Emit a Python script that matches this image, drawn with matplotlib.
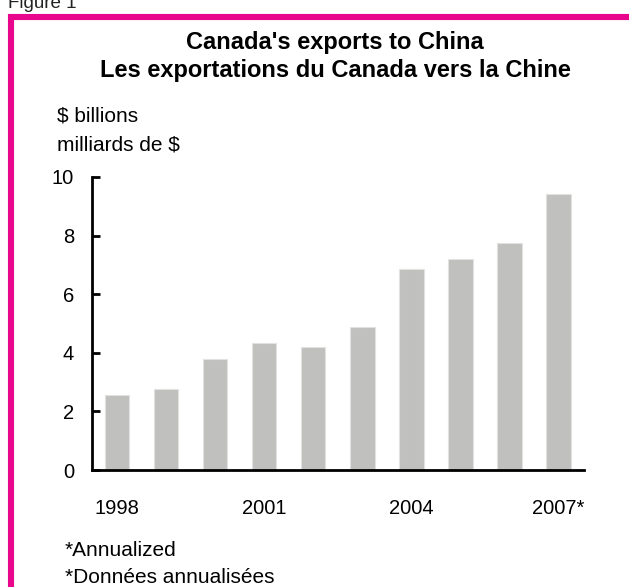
import matplotlib
matplotlib.use("Agg")
import matplotlib.pyplot as plt
from matplotlib.patches import Rectangle

years = ["1998", "1999", "2000", "2001", "2002", "2003", "2004", "2005", "2006", "2007*"]
exports = [2.56, 2.75, 3.78, 4.33, 4.20, 4.89, 6.85, 7.19, 7.74, 9.41]
tick_years = ["1998", "2001", "2004", "2007*"]
y_ticks = [0, 2, 4, 6, 8, 10]

plt.rcParams['font.family'] = ['Liberation Sans', 'DejaVu Sans']

W, H = 629, 587
fig = plt.figure(figsize=(W / 100, H / 100), dpi=100)

def fx(px):
    return px / W

def fy(py):
    return 1 - py / H

# magenta frame
fig.patches.append(Rectangle((fx(10.5), fy(700)), fx(800), fy(17) - fy(700),
                             transform=fig.transFigure, fill=False,
                             edgecolor='#E8068C', linewidth=4.4, zorder=0))
fig.text(fx(8), fy(8), "Figure 1", fontsize=13.5, ha='left', va='baseline', color='#222222')

fig.text(fx(335), fy(49), "Canada's exports to China", fontsize=17,
         fontweight='bold', ha='center', va='baseline')
fig.text(fx(335), fy(77), "Les exportations du Canada vers la Chine", fontsize=17,
         fontweight='bold', ha='center', va='baseline')

fig.text(fx(57), fy(122), "$ billions", fontsize=15, ha='left', va='baseline')
fig.text(fx(57), fy(150), "milliards de $", fontsize=15, ha='left', va='baseline')

fig.text(fx(65), fy(556), "*Annualized", fontsize=15, ha='left', va='baseline')
fig.text(fx(65), fy(583), "*Données annualisées", fontsize=15, ha='left', va='baseline')

ax = fig.add_axes([fx(92), fy(470), fx(584) - fx(92), fy(177) - fy(470)])
x = list(range(len(years)))
ax.bar(x, exports, width=0.5, color='#c0c0be', edgecolor='#e2e2e0', linewidth=0.8, zorder=2)

ax.set_xlim(-0.51, 9.52)
ax.set_ylim(0, 10)
ax.set_yticks(y_ticks)
ax.set_yticklabels([str(v) for v in y_ticks])
ax.set_xticks([0, 3, 6, 9])
ax.set_xticklabels(tick_years)

for s in ['top', 'right']:
    ax.spines[s].set_visible(False)
for s in ['left', 'bottom']:
    ax.spines[s].set_linewidth(2)
    ax.spines[s].set_color('black')
    ax.spines[s].set_zorder(3)

ax.tick_params(axis='y', direction='in', length=6, width=2, pad=13, labelsize=14.5)
ax.tick_params(axis='x', length=0, pad=21, labelsize=14.5)

fig.savefig("out.png", dpi=100)
